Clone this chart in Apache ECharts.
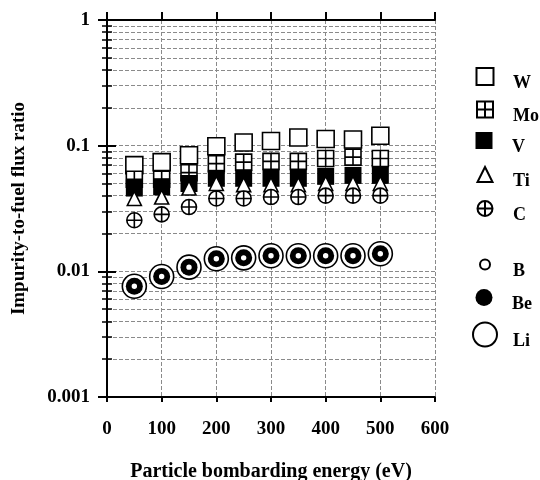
<!DOCTYPE html>
<html>
<head>
<meta charset="utf-8">
<script src="https://cdn.jsdelivr.net/npm/echarts@6/dist/echarts.min.js"></script>
<style>
  html, body { margin: 0; padding: 0; background: #fff; }
  #chart { width: 540px; height: 480px; }
</style>
</head>
<body>
<div id="chart"></div>
<script>
// energies of the points (eV)
const energy = [50, 100, 150, 200, 250, 300, 350, 400, 450, 500]
// impurity-to-fuel flux ratio
const wVals = [0.070, 0.074, 0.084, 0.099, 0.106, 0.109, 0.116, 0.113, 0.112, 0.120]
const moVals = [0.054, 0.054, 0.061, 0.072, 0.074, 0.075, 0.075, 0.079, 0.081, 0.079]
const vVals = [0.046, 0.047, 0.050, 0.055, 0.055, 0.055, 0.055, 0.057, 0.058, 0.058]
const tiVals = [0.038, 0.039, 0.046, 0.050, 0.049, 0.049, 0.049, 0.050, 0.050, 0.050]
const cVals = [0.0255, 0.0284, 0.0325, 0.038, 0.038, 0.039, 0.039, 0.040, 0.040, 0.040]
const bVals = [0.0076, 0.0091, 0.0108, 0.0126, 0.0128, 0.0133, 0.0133, 0.0133, 0.0133, 0.0138]
const beVals = bVals.slice()
const liVals = bVals.slice()
const yTickLabels = ['0.001', '0.01', '0.1', '1']

const font = 'Liberation Serif'
const chart = echarts.init(document.getElementById('chart'))

function pts(vals) {
  return energy.map((x, i) => [x, vals[i]])
}

function mkSeries(name, vals, symbol, size, fill) {
  return {
    name: name,
    type: 'scatter',
    data: pts(vals),
    symbol: symbol,
    symbolSize: size,
    symbolKeepAspect: true,
    itemStyle: { color: fill, borderColor: '#000', borderWidth: fill === '#000' ? 0 : 1.6, opacity: 1 },
    emphasis: { disabled: true }
  }
}

// one legend per entry so every icon can have its own size;
// the empty first line drops the label a little below the icon
function mkLegend(name, cy, size) {
  return {
    data: [name],
    left: 484 - size / 2,
    top: cy - 16.5,
    padding: 0,
    itemWidth: size,
    itemHeight: size,
    selectedMode: false,
    formatter: '\n{name}',
    textStyle: {
      fontFamily: font,
      fontWeight: 'bold',
      fontSize: 18,
      lineHeight: 14,
      color: '#000',
      padding: [0, 0, 0, 512 - 484 - size / 2 - 5]
    }
  }
}

const plusSquare = 'path://M0,0L20,0L20,20L0,20Z M10,0L10,20 M0,10L20,10'
const plusCircle = 'path://M0,10A10,10,0,1,1,20,10A10,10,0,1,1,0,10Z M10,0L10,20 M0,10L20,10'

const axisText = { fontFamily: font, fontWeight: 'bold', fontSize: 19, color: '#000' }
const grid = { type: 'dashed', color: '#8a8a8a', width: 1 }

chart.setOption({
  backgroundColor: '#fff',
  animation: false,
  grid: { left: 107, right: 105, top: 20, bottom: 83, outerBoundsMode: 'none', containLabel: false },
  legend: [
    mkLegend('W', 77, 17),
    mkLegend('Mo', 110, 16),
    mkLegend('V', 141, 17),
    mkLegend('Ti', 175, 15),
    mkLegend('C', 209, 15),
    mkLegend('B', 265, 10),
    mkLegend('Be', 298, 17),
    mkLegend('Li', 335, 24)
  ],
  xAxis: [{
    type: 'value',
    min: 0,
    max: 600,
    interval: 100,
    name: 'Particle bombarding energy (eV)',
    nameLocation: 'middle',
    nameGap: 65,
    nameTextStyle: { fontFamily: font, fontWeight: 'bold', fontSize: 20, color: '#000' },
    axisLine: { onZero: false, lineStyle: { color: '#000', width: 2 } },
    axisTick: { length: 5, lineStyle: { color: '#000', width: 2 } },
    axisLabel: Object.assign({ margin: 23 }, axisText),
    splitLine: { show: true, lineStyle: grid }
  }, {
    type: 'value',
    position: 'top',
    min: 0,
    max: 600,
    interval: 100,
    axisLine: { onZero: false, lineStyle: { color: '#000', width: 2 } },
    axisTick: { length: 8, lineStyle: { color: '#000', width: 2 } },
    axisLabel: { show: false },
    splitLine: { show: false }
  }],
  yAxis: [{
    type: 'log',
    logBase: 10,
    min: 0.001,
    max: 1,
    name: 'Impurity-to-fuel flux ratio',
    nameLocation: 'middle',
    nameGap: 78,
    nameTextStyle: { fontFamily: font, fontWeight: 'bold', fontSize: 19, color: '#000' },
    axisLine: { lineStyle: { color: '#000', width: 2 } },
    axisTick: { length: 9, lineStyle: { color: '#000', width: 2 } },
    minorTick: { show: true, splitNumber: 9, length: 5, lineStyle: { color: '#000', width: 1.5 } },
    axisLabel: Object.assign({
      margin: 17,
      formatter: function(v) {
        const k = Math.round(Math.log10(v)) + 3
        return yTickLabels[k]
      }
    }, axisText),
    splitLine: { show: true, lineStyle: grid },
    minorSplitLine: { show: true, lineStyle: grid }
  }, {
    type: 'log',
    logBase: 10,
    min: 0.001,
    max: 1,
    position: 'right',
    axisLine: { show: true, lineStyle: { color: '#000', width: 2 } },
    axisTick: { show: true, length: 9, lineStyle: { color: '#000', width: 2 } },
    minorTick: { show: true, splitNumber: 9, length: 5, lineStyle: { color: '#000', width: 1.5 } },
    axisLabel: { show: false },
    splitLine: { show: false }
  }],
  series: [
    mkSeries('W', wVals, 'rect', 17, '#fff'),
    mkSeries('Mo', moVals, plusSquare, 16, '#fff'),
    mkSeries('V', vVals, 'rect', 17, '#000'),
    mkSeries('Ti', tiVals, 'triangle', 14, '#fff'),
    mkSeries('C', cVals, plusCircle, 15, '#fff'),
    mkSeries('Li', liVals, 'circle', 24, '#fff'),
    mkSeries('Be', beVals, 'circle', 17, '#000'),
    mkSeries('B', bVals, 'circle', 7, '#fff')
  ]
})
</script>
</body>
</html>
